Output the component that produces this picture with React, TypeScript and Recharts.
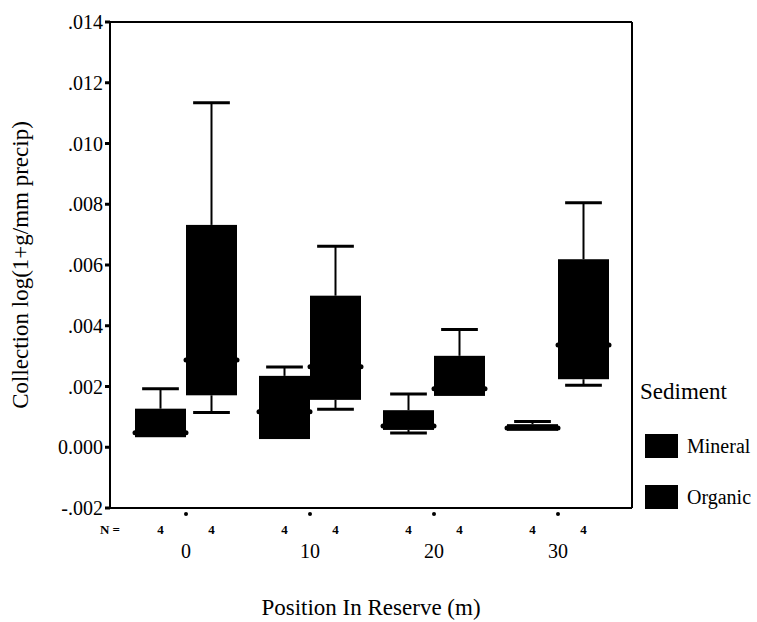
import React from 'react';
import { ComposedChart, Bar, XAxis, YAxis, ReferenceLine, Legend, Label } from 'recharts';

const FONT = "'Liberation Serif', 'Times New Roman', serif";

const categories = ['0', '10', '20', '30'];

const mineralMin = [0.00033, 0.00027, 0.00047, 0.00053];
const mineralQ1 = [0.00033, 0.00027, 0.00057, 0.00054];
const mineralMedian = [0.00048, 0.00117, 0.0007, 0.00063];
const mineralQ3 = [0.00127, 0.00235, 0.00122, 0.00076];
const mineralMax = [0.00193, 0.00264, 0.00175, 0.00085];

const organicMin = [0.00114, 0.00125, 0.00169, 0.00204];
const organicQ1 = [0.00171, 0.00156, 0.00169, 0.00224];
const organicMedian = [0.00287, 0.00265, 0.00193, 0.00337];
const organicQ3 = [0.00732, 0.00499, 0.00301, 0.00619];
const organicMax = [0.01134, 0.00662, 0.00388, 0.00805];

const nMineral = [4, 4, 4, 4];
const nOrganic = [4, 4, 4, 4];

const yTicks = [-0.002, 0, 0.002, 0.004, 0.006, 0.008, 0.01, 0.012, 0.014];

const data = categories.map((c, i) => ({
  pos: c,
  mineralRange: [mineralMin[i], mineralMax[i]],
  organicRange: [organicMin[i], organicMax[i]],
  mineralStats: { min: mineralMin[i], q1: mineralQ1[i], median: mineralMedian[i], q3: mineralQ3[i], max: mineralMax[i] },
  organicStats: { min: organicMin[i], q1: organicQ1[i], median: organicMedian[i], q3: organicQ3[i], max: organicMax[i] },
}));

const makeBoxShape = (key: string) => (props: any) => {
  const { x, y, width, height, payload } = props;
  const s = payload[key];
  const top = Math.min(y, y + height);
  const h = Math.abs(height);
  const span = s.max - s.min;
  const py = (v: number) => (span === 0 ? top : top + ((s.max - v) / span) * h);
  const cx = x + width / 2;
  const capW = width * 0.72;
  const yMax = py(s.max);
  const yQ3 = py(s.q3);
  const yMed = py(s.median);
  const yQ1 = py(s.q1);
  const yMin = py(s.min);
  return (
    <g>
      {yQ3 - yMax > 0.5 && (
        <g>
          <line x1={cx} x2={cx} y1={yMax} y2={yQ3} stroke="#000" strokeWidth={2} />
          <line x1={cx - capW / 2} x2={cx + capW / 2} y1={yMax} y2={yMax} stroke="#000" strokeWidth={3} />
        </g>
      )}
      {yMin - yQ1 > 0.5 && (
        <g>
          <line x1={cx} x2={cx} y1={yQ1} y2={yMin} stroke="#000" strokeWidth={2} />
          <line x1={cx - capW / 2} x2={cx + capW / 2} y1={yMin} y2={yMin} stroke="#000" strokeWidth={3} />
        </g>
      )}
      <rect x={x} y={yQ3} width={width} height={Math.max(yQ1 - yQ3, 1)} fill="#000" />
      <line x1={x - 1} x2={x + width + 1} y1={yMed} y2={yMed} stroke="#000" strokeWidth={2} />
      <circle cx={x} cy={yMed} r={2.5} fill="#000" />
      <circle cx={x + width} cy={yMed} r={2.5} fill="#000" />
    </g>
  );
};

const mineralShape = makeBoxShape('mineralStats');
const organicShape = makeBoxShape('organicStats');

const CategoryTick = (props: any) => {
  const { x, y, payload, index } = props;
  return (
    <g fontFamily={FONT} fill="#000">
      <circle cx={x} cy={y + 6} r={2} fill="#000" />
      {index === 0 && (
        <text x={x - 76} y={y + 21} fontSize={13} fontWeight="bold" textAnchor="middle" dominantBaseline="central">
          N =
        </text>
      )}
      <text x={x - 25.5} y={y + 21} fontSize={13} fontWeight="bold" textAnchor="middle" dominantBaseline="central">
        {nMineral[index]}
      </text>
      <text x={x + 25.5} y={y + 21} fontSize={13} fontWeight="bold" textAnchor="middle" dominantBaseline="central">
        {nOrganic[index]}
      </text>
      <text x={x} y={y + 43} fontSize={20} textAnchor="middle" dominantBaseline="central">
        {payload.value}
      </text>
    </g>
  );
};

const fmtY = (v: number) => {
  if (Math.abs(v) < 1e-12) return '0.000';
  return v.toFixed(3).replace(/^(-?)0\./, '$1.');
};

const renderLegend = (props: any) => {
  const { payload } = props;
  return (
    <div style={{ fontFamily: FONT, color: '#000' }}>
      <div style={{ fontSize: 23, height: 34, lineHeight: '34px' }}>Sediment</div>
      {(payload || []).map((entry: any, i: number) => (
        <div
          key={entry.value}
          style={{ display: 'flex', alignItems: 'center', height: 24, marginTop: i === 0 ? 25 : 27 }}
        >
          <div style={{ width: 33, height: 24, background: '#000', marginLeft: 5 }} />
          <span style={{ fontSize: 20, marginLeft: 9 }}>{entry.value}</span>
        </div>
      ))}
    </div>
  );
};

export default function App() {
  return (
    <div style={{ position: 'absolute', left: 0, top: 0, background: '#fff' }}>
      <ComposedChart
        width={757}
        height={622}
        data={data}
        margin={{ top: 22, right: 124, bottom: 0, left: 0 }}
        barCategoryGap={11}
        barGap={0}
      >
        <XAxis
          dataKey="pos"
          type="category"
          height={114}
          padding={{ left: 14, right: 12 }}
          axisLine={{ stroke: '#000', strokeWidth: 2 }}
          tickLine={false}
          tickSize={0}
          tickMargin={0}
          interval={0}
          tick={<CategoryTick />}
        >
          <Label
            content={(p: any) => {
              const vb = p.viewBox;
              return (
                <text
                  x={vb.x + vb.width / 2}
                  y={vb.y + vb.height - 7}
                  textAnchor="middle"
                  fontSize={23}
                  fontFamily={FONT}
                  fill="#000"
                >
                  Position In Reserve (m)
                </text>
              );
            }}
          />
        </XAxis>
        <YAxis
          width={110}
          domain={[-0.002, 0.014]}
          ticks={yTicks}
          type="number"
          allowDataOverflow
          tickFormatter={fmtY}
          axisLine={{ stroke: '#000', strokeWidth: 2 }}
          tickLine={{ stroke: '#000', strokeWidth: 3 }}
          tickSize={5}
          tickMargin={2}
          tick={{ fontSize: 20, fill: '#000', fontFamily: FONT }}
        >
          <Label
            content={(p: any) => {
              const vb = p.viewBox;
              const cx = vb.x + 20;
              const cy = vb.y + vb.height / 2;
              return (
                <text
                  x={cx}
                  y={cy}
                  transform={`rotate(-90, ${cx}, ${cy})`}
                  textAnchor="middle"
                  dominantBaseline="central"
                  fontSize={23}
                  fontFamily={FONT}
                  fill="#000"
                >
                  Collection log(1+g/mm precip)
                </text>
              );
            }}
          />
        </YAxis>
        <YAxis
          yAxisId="right"
          orientation="right"
          width={1}
          domain={[-0.002, 0.014]}
          type="number"
          tick={false}
          tickLine={false}
          axisLine={{ stroke: '#000', strokeWidth: 2 }}
        />
        <ReferenceLine y={0.014} stroke="#000" strokeWidth={2} ifOverflow="visible" />
        <Bar
          dataKey="mineralRange"
          name="Mineral"
          fill="#000"
          shape={mineralShape}
          isAnimationActive={false}
        />
        <Bar
          dataKey="organicRange"
          name="Organic"
          fill="#000"
          shape={organicShape}
          isAnimationActive={false}
        />
        <Legend
          layout="horizontal"
          verticalAlign="middle"
          align="center"
          content={renderLegend}
          wrapperStyle={{ left: 640, top: 375, width: 117, height: 140 }}
        />
      </ComposedChart>
    </div>
  );
}
